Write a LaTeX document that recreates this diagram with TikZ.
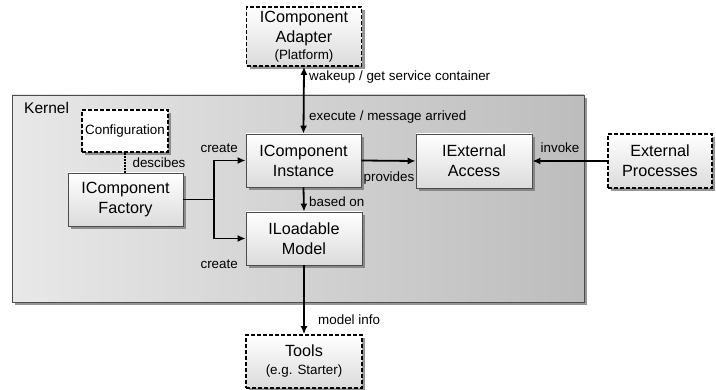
\documentclass[tikz,border=0pt]{standalone}
\usepackage{fontspec}
\setmainfont{Liberation Sans}
\usetikzlibrary{arrows.meta,shadows}

\tikzset{
  shadowed/.style={drop shadow={shadow xshift=3pt, shadow yshift=-3pt, fill=black!55, opacity=0.75}},
  box/.style={draw=black!70, line width=0.8pt, minimum width=115pt, minimum height=53pt,
    inner sep=0pt, align=center, font=\fontsize{16.2}{20}\selectfont,
    top color=white, bottom color=black!14, shadowed},
  dbox/.style={box, draw=black, dash pattern=on 4pt off 2pt, line width=1.6pt},
  lbl/.style={font=\fontsize{13.4}{15}\selectfont, inner sep=0pt},
  arr/.style={line width=1.8pt, -{Latex[length=8pt,width=7pt]}},
  darr/.style={line width=1.8pt, {Latex[length=8pt,width=7pt]}-{Latex[length=8pt,width=7pt]}},
}

\begin{document}
\begin{tikzpicture}[x=1pt,y=-1pt]
\useasboundingbox (0,0) rectangle (716,390);

% kernel container
\path[draw=black!70, line width=0.8pt, left color=black!9, right color=black!26, shadowed]
  (12,95) rectangle (584,302);
\node[lbl, font=\fontsize{15.5}{17}\selectfont, anchor=west] (kernel) at (24,108) {Kernel};

% components
\node[dbox, minimum height=59pt] (adapter) at (304,36.5)
  {IComponent\\Adapter\\[-3pt]{\fontsize{13.4}{15}\selectfont(Platform)}};
\node[dbox, minimum width=86pt, minimum height=42pt, fill=white, top color=white, bottom color=white,
  font=\fontsize{13.4}{15}\selectfont] (config) at (125,131) {Configuration};
\node[box] (factory) at (125.5,199.5) {IComponent\\Factory};
\node[box] (instance) at (303.5,160.5) {IComponent\\Instance};
\node[box, minimum width=116pt, minimum height=54pt] (external) at (474,161) {IExternal\\Access};
\node[box, minimum width=116pt] (model) at (304,238.5) {ILoadable\\Model};
\node[dbox, minimum width=104pt, minimum height=54pt] (processes) at (660,161) {External\\Processes};
\node[dbox, minimum width=116pt] (tools) at (304,361.5)
  {Tools\\[-2pt]{\fontsize{13.4}{15}\selectfont(e.g. Starter)}};

% connectors
\draw[darr] (adapter.south) -- (instance.north);
\draw[line width=2pt, dash pattern=on 2pt off 1pt] (config.south) -- (config.south |- factory.north);
\coordinate (split) at (214,199.5);
\draw[line width=1.8pt] (factory.east) -- (split);
\draw[arr] (split) |- (instance.west);
\draw[arr] (split) |- (model.west);
\draw[arr] (instance.east) -- (external.west);
\draw[arr] (processes.west) -- (external.east);
\draw[arr] (instance.south) -- (model.north);
\draw[arr] (model.south) -- (tools.north);

% connector labels
\node[lbl, anchor=west] (l1) at (309,77) {wakeup / get service container};
\node[lbl, anchor=west] (l2) at (309,117) {execute / message arrived};
\node[lbl] (l3) at (159,163) {descibes};
\node[lbl, anchor=east] (l4) at (238,148) {create};
\node[lbl, anchor=east] (l5) at (238,264) {create};
\node[lbl] (l6) at (389,178) {provides};
\node[lbl] (l7) at (560,148) {invoke};
\node[lbl, anchor=west] (l8) at (309,202) {based on};
\node[lbl, anchor=west] (l9) at (318,320) {model info};
\end{tikzpicture}
\end{document}
